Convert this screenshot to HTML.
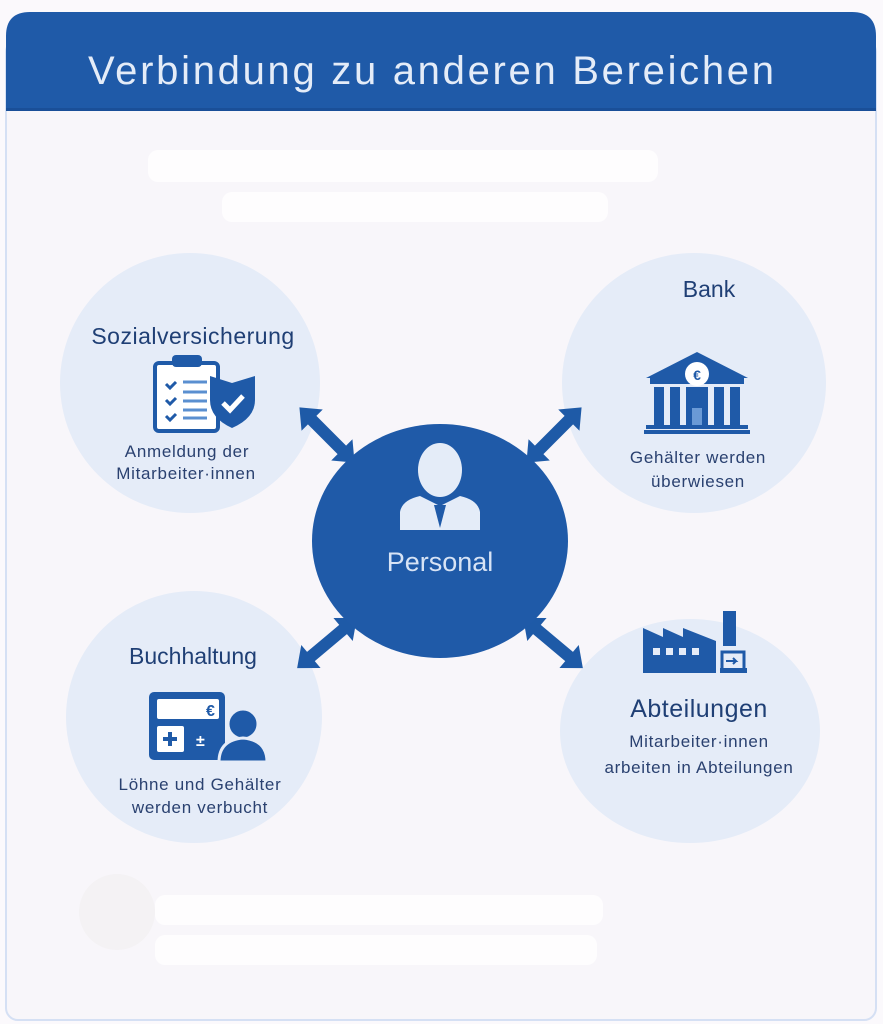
<!DOCTYPE html>
<html><head><meta charset="utf-8"><style>
html,body{margin:0;padding:0;background:#fbf9fc;}
svg{display:block;font-family:"Liberation Sans",sans-serif;}
.d{font-size:17px;letter-spacing:0.7px;fill:#2a4170}
</style></head><body>
<svg width="883" height="1024" viewBox="0 0 883 1024" xmlns="http://www.w3.org/2000/svg">
<defs>
<polygon id="da" points="-39,0 -21,-15 -21,-6 21,-6 21,-15 39,0 21,15 21,6 -21,6 -21,15" fill="#1e5aa7"/>
</defs>
<rect width="883" height="1024" fill="#fbf9fc"/>
<rect x="6" y="40" width="870" height="980" rx="12" fill="#f8f6fa" stroke="#d5e0f4" stroke-width="2"/>
<path d="M6,110 L6,36 Q6,12 30,12 L852,12 Q876,12 876,36 L876,110 Z" fill="#1f5aa8"/>
<rect x="6" y="108" width="870" height="3" fill="#1a4f98"/>
<text x="431" y="84" text-anchor="middle" font-size="40" fill="#e4ecf8" textLength="686" lengthAdjust="spacing">Verbindung zu anderen Bereichen</text>

<!-- faint blobs -->
<rect x="148" y="150" width="510" height="32" rx="10" fill="#ffffff" opacity="0.8"/>
<rect x="222" y="192" width="386" height="30" rx="10" fill="#ffffff" opacity="0.8"/>
<ellipse cx="117" cy="912" rx="38" ry="38" fill="#f4f2f4"/>
<rect x="155" y="895" width="448" height="30" rx="10" fill="#ffffff" opacity="0.8"/>
<rect x="155" y="935" width="442" height="30" rx="10" fill="#ffffff" opacity="0.8"/>

<!-- outer circles -->
<ellipse cx="190" cy="383" rx="130" ry="130" fill="#e5ecf8"/>
<ellipse cx="694" cy="383" rx="132" ry="130" fill="#e5ecf8"/>
<ellipse cx="194" cy="717" rx="128" ry="126" fill="#e5ecf8"/>
<ellipse cx="690" cy="731" rx="130" ry="112" fill="#e5ecf8"/>

<!-- arrows -->
<use href="#da" transform="translate(327,435) rotate(45)"/>
<use href="#da" transform="translate(554,435) rotate(-45)"/>
<use href="#da" transform="translate(327,643) rotate(-40)"/>
<use href="#da" transform="translate(553,643) rotate(40)"/>

<!-- center -->
<ellipse cx="440" cy="541" rx="128" ry="117" fill="#1f5aa8"/>
<g fill="#e4ecf8">
<ellipse cx="440" cy="470" rx="22" ry="27"/>
<path d="M400,530 L400,512 Q402,500 420,496 L440,506 L460,496 Q478,500 480,512 L480,530 Z"/>
</g>
<path d="M434,505 L440,528 L446,505 Z" fill="#1f5aa8"/>
<text x="440" y="571" text-anchor="middle" font-size="27" fill="#d7e3f5">Personal</text>

<!-- Sozialversicherung -->
<text x="193" y="344" text-anchor="middle" font-size="23" letter-spacing="0.5" fill="#1f3f75">Sozialversicherung</text>
<rect x="155" y="363" width="63" height="68" rx="4" fill="#fff" stroke="#1f5aa8" stroke-width="4"/>
<rect x="172" y="355" width="30" height="12" rx="4" fill="#1f5aa8"/>
<g stroke="#5a8fd0" stroke-width="3"><line x1="183" y1="382" x2="207" y2="382"/><line x1="183" y1="392" x2="207" y2="392"/><line x1="183" y1="401" x2="207" y2="401"/><line x1="183" y1="410" x2="207" y2="410"/><line x1="183" y1="418" x2="207" y2="418"/></g>
<g stroke="#1f5aa8" stroke-width="3" fill="none"><path d="M166,384 l4,4 l6,-6"/><path d="M166,400 l4,4 l6,-6"/><path d="M166,416 l4,4 l6,-6"/></g>
<path d="M232,383 L255,376 L255,400 Q255,418 232,428 Q210,418 210,400 L210,376 Z" fill="#1f5aa8"/>
<path d="M223,403 l7,7 l13,-14" stroke="#fff" stroke-width="5" fill="none"/>
<text x="187" y="457" text-anchor="middle" class="d">Anmeldung der</text>
<text x="186" y="479" text-anchor="middle" class="d">Mitarbeiter·innen</text>

<!-- Bank -->
<text x="709" y="297" text-anchor="middle" font-size="23" fill="#1f3f75">Bank</text>
<path d="M646,378 L697,352 L748,378 Z" fill="#1f5aa8"/>
<rect x="650" y="378" width="94" height="6" fill="#1f5aa8"/>
<circle cx="697" cy="374" r="12" fill="#fff"/>
<text x="697" y="380" text-anchor="middle" font-size="14" font-weight="bold" fill="#1f5aa8">€</text>
<g fill="#1f5aa8"><rect x="654" y="387" width="10" height="38"/><rect x="670" y="387" width="10" height="38"/><rect x="714" y="387" width="10" height="38"/><rect x="730" y="387" width="10" height="38"/><rect x="686" y="387" width="22" height="38"/><rect x="646" y="425" width="102" height="4"/><rect x="644" y="430" width="106" height="4"/></g>
<rect x="692" y="408" width="10" height="17" fill="#6a9ad6"/>
<text x="698" y="463" text-anchor="middle" class="d">Gehälter werden</text>
<text x="698" y="487" text-anchor="middle" class="d">überwiesen</text>

<!-- Buchhaltung -->
<text x="193" y="664" text-anchor="middle" font-size="23" fill="#1f3f75">Buchhaltung</text>
<rect x="149" y="692" width="76" height="68" rx="5" fill="#1f5aa8"/>
<rect x="157" y="699" width="62" height="20" rx="2" fill="#fff"/>
<text x="206" y="716" font-size="16" font-weight="bold" fill="#1f5aa8">€</text>
<rect x="157" y="726" width="27" height="26" rx="2" fill="#fff"/>
<path d="M170,732 v14 M163,739 h14" stroke="#1f5aa8" stroke-width="4"/>
<text x="196" y="746" font-size="16" font-weight="bold" fill="#fff">±</text>
<circle cx="243" cy="724" r="15" fill="#1f5aa8" stroke="#e5ecf8" stroke-width="3"/>
<path d="M219,762 Q219,740 243,738 Q267,740 267,762 Z" fill="#1f5aa8" stroke="#e5ecf8" stroke-width="3"/>
<text x="200" y="790" text-anchor="middle" class="d">Löhne und Gehälter</text>
<text x="200" y="813" text-anchor="middle" class="d">werden verbucht</text>

<!-- Abteilungen -->
<path d="M643,628 L663,637 L663,628 L683,637 L683,628 L716,641 L716,673 L643,673 Z" fill="#1f5aa8"/>
<g fill="#e5ecf8"><rect x="653" y="648" width="7" height="7"/><rect x="666" y="648" width="7" height="7"/><rect x="679" y="648" width="7" height="7"/><rect x="692" y="648" width="7" height="7"/></g>
<rect x="723" y="611" width="13" height="35" fill="#1f5aa8"/>
<path d="M722,652 h22 v18 h-22 z" fill="none" stroke="#1f5aa8" stroke-width="3"/>
<path d="M726,661 h10 l-3,-3 M736,661 l-3,3" stroke="#1f5aa8" stroke-width="2" fill="none"/>
<rect x="720" y="668" width="27" height="5" fill="#1f5aa8"/>
<text x="699" y="717" text-anchor="middle" font-size="25" letter-spacing="0.5" fill="#1f3f75">Abteilungen</text>
<text x="699" y="747" text-anchor="middle" class="d">Mitarbeiter·innen</text>
<text x="699" y="773" text-anchor="middle" class="d">arbeiten in Abteilungen</text>
</svg>
</body></html>
